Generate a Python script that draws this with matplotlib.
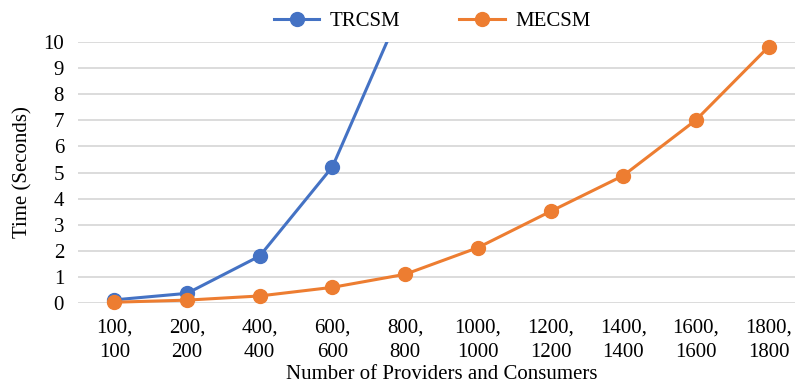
import numpy as np
import matplotlib.pyplot as plt

# 运行时间对比数据（秒）
sizes = ['100,\n100', '200,\n200', '400,\n400', '600,\n600', '800,\n800',
         '1000,\n1000', '1200,\n1200', '1400,\n1400', '1600,\n1600', '1800,\n1800']
trcsm = [0.12, 0.37, 1.8, 5.22, 11.6]
mecsm = [0.03, 0.11, 0.27, 0.6, 1.1, 2.12, 3.51, 4.88, 7.01, 9.82]

plt.rcParams['font.family'] = ['Liberation Serif', 'DejaVu Serif']
plt.rcParams['font.size'] = 15

fig = plt.figure(figsize=(7.95, 3.89), dpi=100)
ax = fig.add_axes([78/795, 1-303/389, 727/795, 261/389])

x = np.arange(len(sizes))
ax.plot(x[:len(trcsm)], trcsm, color='#4472C4', lw=2.2, marker='o', ms=10,
        label='TRCSM', clip_on=True)
ax.plot(x, mecsm, color='#ED7D31', lw=2.2, marker='o', ms=10,
        label='MECSM', clip_on=False)

ax.set_xlim(-0.5, len(sizes)-0.5)
ax.set_ylim(0, 10)
ax.set_yticks(range(0, 11))
ax.set_xticks(x)
ax.set_xticklabels(sizes, linespacing=1.4)
ax.grid(axis='y', color='#d9d9d9', lw=1.3)
ax.set_axisbelow(True)
for s in ax.spines.values():
    s.set_visible(False)
ax.tick_params(length=0)
ax.tick_params(axis='y', pad=10)
ax.tick_params(axis='x', pad=11)

ax.set_xlabel('Number of Providers and Consumers', labelpad=2)
ax.set_ylabel('Time (Seconds)', labelpad=8)

fig.legend(loc='center', bbox_to_anchor=(432/795, 1-21/389), ncol=2, frameon=False,
           handlelength=2.2, columnspacing=2.8, handletextpad=0.5)

fig.savefig('out.png', dpi=100)
